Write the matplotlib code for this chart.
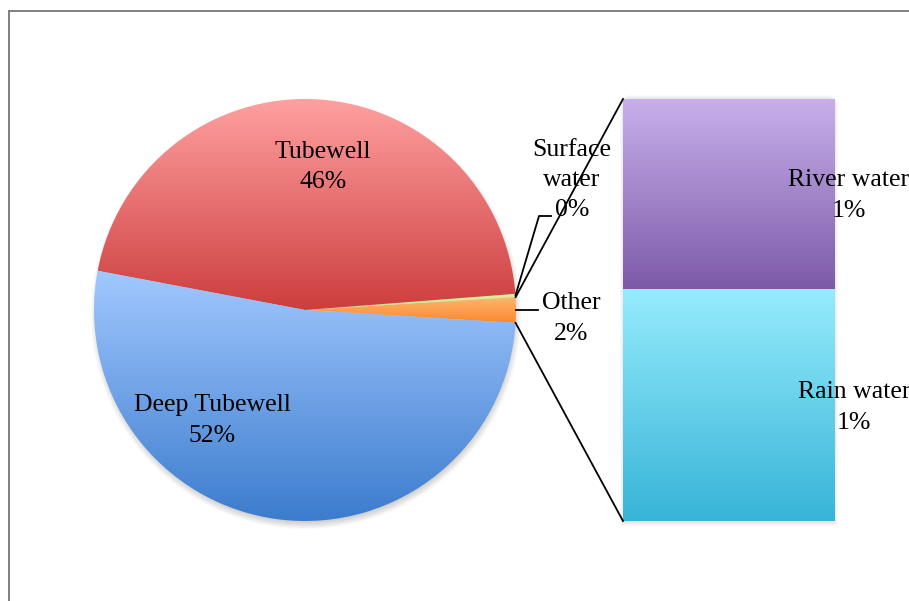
import numpy as np
import matplotlib
matplotlib.use("Agg")
import matplotlib.pyplot as plt
from matplotlib.patches import Circle, Rectangle
from matplotlib.lines import Line2D

# pie slices (percent), "Other" is broken out into the bar on the right
pie_names = ["Other", "Surface\nwater", "Tubewell", "Deep Tubewell"]
river_water = 0.88
rain_water = 1.07
other = river_water + rain_water
pie_values = [other, 0.25, 45.8, 52.0]
bar_names = ["Rain water", "River water"]
bar_values = [rain_water, river_water]

pie_colors = [((255, 182, 112), (250, 135, 45)),
              ((215, 245, 160), (190, 230, 130)),
              ((255, 160, 160), (205, 62, 62)),
              ((162, 200, 255), (60, 124, 205))]
bar_colors = [((150, 236, 253), (55, 180, 215)),
              ((200, 176, 236), (125, 90, 168))]

plt.rcParams["font.family"] = ["Liberation Serif", "DejaVu Serif"]
FS = 18.5
LS = 1.5

fig = plt.figure(figsize=(9.09, 6.01), dpi=100)
ax = fig.add_axes([0, 0, 1, 1])

cx, cy, r = 305, 291, 211
bar_x0, bar_x1 = 623, 835
bar_y0, bar_y1 = 80, 502


def gradient_fill(patch, top, bottom, z):
    ext = patch.get_path().transformed(patch.get_patch_transform()).get_extents()
    t = np.linspace(0, 1, 256)[:, None]
    top = np.array(top) / 255.0
    bottom = np.array(bottom) / 255.0
    img = bottom[None, :] * (1 - t) + top[None, :] * t
    img = img[:, None, :]
    im = ax.imshow(img, extent=[ext.x0, ext.x1, ext.y0, ext.y1], origin="lower",
                   aspect="auto", interpolation="bilinear", zorder=z)
    im.set_clip_path(patch)
    patch.set_facecolor("none")
    patch.set_edgecolor("none")


# soft drop shadows
for k in range(8):
    ax.add_patch(Circle((cx + 1, cy - 4), r + 4 - k, facecolor="#000000",
                        alpha=0.025, edgecolor="none", zorder=1))
    ax.add_patch(Rectangle((bar_x0 + 1 - 4 + k, bar_y0 - 5 + k),
                           bar_x1 - bar_x0 + 6 - 2 * k, bar_y1 - bar_y0 + 2,
                           facecolor="#000000", alpha=0.025, edgecolor="none", zorder=1))

start = -pie_values[0] * 3.6 / 2
wedges, _ = ax.pie(pie_values, startangle=start, counterclock=True,
                   center=(cx, cy), radius=r,
                   wedgeprops=dict(linewidth=0))
for w, (top, bottom) in zip(wedges, pie_colors):
    gradient_fill(w, top, bottom, 3)

# stacked bar for the "Other" slice
scale = (bar_y1 - bar_y0) / sum(bar_values)
bottom_y = bar_y0
bars = []
for val, (top, bottom) in zip(bar_values, bar_colors):
    b = ax.bar((bar_x0 + bar_x1) / 2, val * scale, width=bar_x1 - bar_x0,
               bottom=bottom_y, linewidth=0, zorder=3)[0]
    gradient_fill(b, top, bottom, 3)
    bars.append(b)
    bottom_y += val * scale

# connector lines from the "Other" slice to the bar
ow = wedges[0]
for ang, by in [(ow.theta2, bar_y1), (ow.theta1, bar_y0)]:
    a = np.radians(ang)
    ax.add_line(Line2D([cx + r * np.cos(a), bar_x0], [cy + r * np.sin(a), by],
                       color="black", lw=1.3, zorder=5))

# leader lines
sw = wedges[1]
a = np.radians((sw.theta1 + sw.theta2) / 2)
px, py = cx + r * np.cos(a), cy + r * np.sin(a)
ax.add_line(Line2D([px, 539, 551], [py, 385, 385], color="black", lw=1.3, zorder=5))
ax.add_line(Line2D([cx + r, 538], [cy, cy], color="black", lw=1.3, zorder=5))

# data labels
labels_pos = [(571, 282.5), (572, 421), (323, 434), (212, 180.5)]
for name, val, (x, y) in zip(pie_names, pie_values, labels_pos):
    ax.text(x, y, f"{name}\n{val:.0f}%", ha="center", va="center",
            fontsize=FS, linespacing=LS, zorder=6)
for name, val, (x, y) in zip(bar_names, bar_values, [(854, 193.5), (849, 405.5)]):
    ax.text(x, y, f"{name}\n{val:.0f}%", ha="center", va="center",
            fontsize=FS, linespacing=LS, zorder=6)

ax.set_xlim(0, 909)
ax.set_ylim(0, 601)
ax.set_axis_off()

# chart area border (left and top edges visible)
fig.add_artist(Line2D([8.5 / 909, 8.5 / 909], [0, 1 - 11 / 601], color="#808080", lw=1.4,
                      transform=fig.transFigure))
fig.add_artist(Line2D([8.5 / 909, 1], [1 - 11 / 601, 1 - 11 / 601], color="#808080", lw=1.4,
                      transform=fig.transFigure))

fig.savefig("out.png", dpi=100, facecolor="white")
